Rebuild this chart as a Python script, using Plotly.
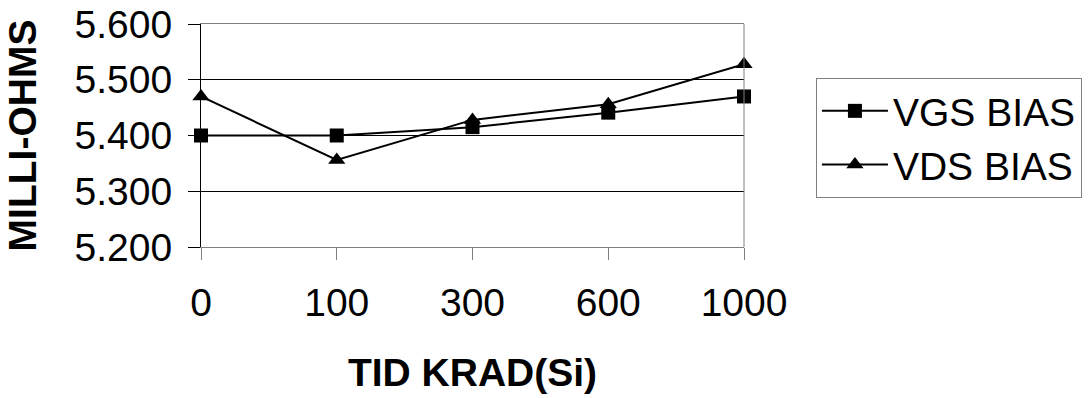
import plotly.graph_objects as go

categories = ["0", "100", "300", "600", "1000"]
vgs_bias = [5.400, 5.400, 5.415, 5.441, 5.470]
vds_bias = [5.470, 5.356, 5.428, 5.456, 5.528]
y_ticks = [5.2, 5.3, 5.4, 5.5, 5.6]
y_tick_labels = ["5.200", "5.300", "5.400", "5.500", "5.600"]

FONT = "Liberation Sans, Arial, sans-serif"
FS = 39

fig = go.Figure()
fig.add_trace(go.Scatter(
    x=categories, y=vgs_bias, name="VGS BIAS", mode="lines+markers",
    line=dict(color="black", width=2),
    marker=dict(symbol="square", size=14, color="black"),
    cliponaxis=False,
))
fig.add_trace(go.Scatter(
    x=categories, y=vds_bias, name="VDS BIAS", mode="lines+markers",
    line=dict(color="black", width=2),
    marker=dict(symbol="triangle-up", size=15, color="black"),
    cliponaxis=False,
))

W, H = 1090, 398
L, R, T, B = 201, 345.5, 24, 151

fig.update_layout(
    width=W, height=H,
    margin=dict(l=L, r=R, t=T, b=B, pad=0, autoexpand=False),
    paper_bgcolor="white", plot_bgcolor="white",
    font=dict(family=FONT, size=FS, color="black"),
    showlegend=True,
    legend=dict(
        x=(816.5 - L) / (W - L - R), xanchor="left",
        y=1 - (78 - T) / (H - T - B), yanchor="top",
        bordercolor="#808080", borderwidth=1,
        font=dict(family=FONT, size=FS, color="black"),
        bgcolor="white", itemwidth=66,
    ),
    xaxis=dict(
        type="category", range=[0, 4], automargin=False,
        showline=True, linecolor="#808080", linewidth=1, mirror=True,
        ticks="outside", ticklen=12, tickcolor="#808080",
        showgrid=False, zeroline=False,
        tickfont=dict(family=FONT, size=FS),
        ticklabelstandoff=9,
        title=dict(text="<b>TID KRAD(Si)</b>", font=dict(family=FONT, size=FS), standoff=35),
    ),
    yaxis=dict(
        range=[5.2, 5.6], tickvals=y_ticks, ticktext=y_tick_labels, automargin=False,
        showline=True, linecolor="black", linewidth=1,
        ticks="outside", ticklen=12, tickcolor="black",
        showgrid=True, gridcolor="black", gridwidth=1, zeroline=False,
        tickfont=dict(family=FONT, size=FS),
        ticklabelstandoff=8,
        title=dict(text="<b>MILLI-OHMS</b>", font=dict(family=FONT, size=FS), standoff=25),
    ),
    shapes=[dict(type="line", xref="paper", yref="paper", x0=1, x1=1, y0=0, y1=1,
                 line=dict(color="#808080", width=1))],
)

fig.write_html("out.html")
